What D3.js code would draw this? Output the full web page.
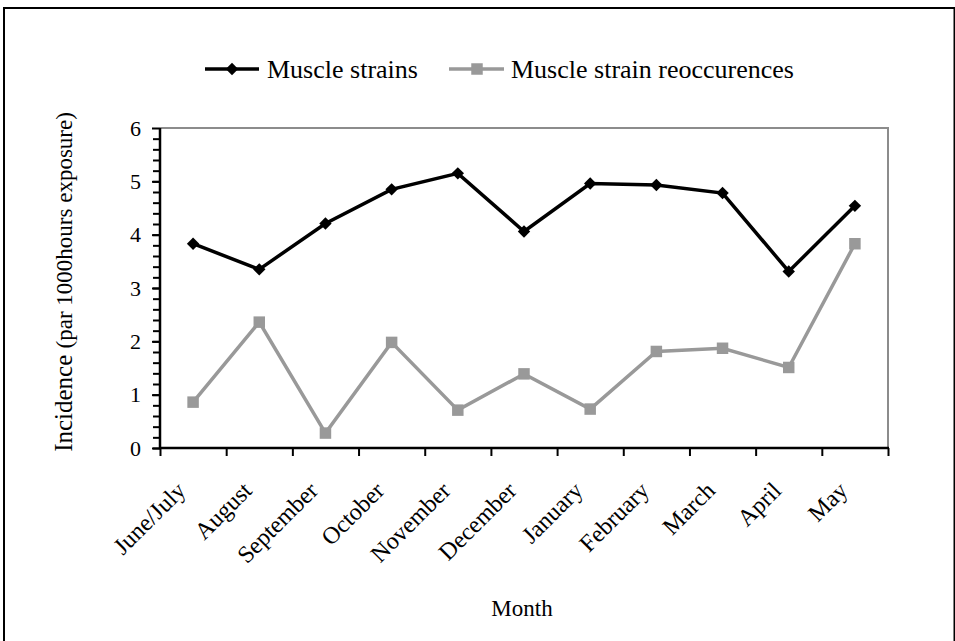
<!DOCTYPE html>
<html><head><meta charset="utf-8">
<script src="https://cdn.jsdelivr.net/npm/d3@7/dist/d3.min.js"></script>
<style>html,body{margin:0;padding:0;background:#fff;}svg{display:block;}text{font-family:"Liberation Serif","Times New Roman",serif;fill:#000;}</style>
</head><body>
<svg id="c" width="955" height="641"></svg>
<script>
const months = ["June/July","August","September","October","November","December","January","February","March","April","May"];
const strains = [3.83,3.35,4.21,4.85,5.15,4.06,4.96,4.93,4.78,3.31,4.54];
const reoccurrences = [0.86,2.36,0.28,1.98,0.71,1.39,0.73,1.81,1.87,1.51,3.83];
const yTicks = [0,1,2,3,4,5,6];
const seriesNames = ["Muscle strains","Muscle strain reoccurences"];

const svg = d3.select("#c");
const L=160,R=888,T=128,B=448;
// outer frame
svg.append("rect").attr("x",4).attr("y",8).attr("width",950.5).attr("height",645).attr("fill","none").attr("stroke","#000").attr("stroke-width",2);

const x = d3.scaleBand().domain(months).range([L,R]).paddingInner(0).paddingOuter(0);
const xb = d3.scaleLinear().domain([0,months.length]).range([L,R]);
const y = d3.scaleLinear().domain([0,6]).range([B,T]);

// grey top/right border
svg.append("path").attr("d",`M${L},${T}H${R}V${B}`).attr("fill","none").attr("stroke","#8c8c8c").attr("stroke-width",2);

// y minor ticks
const gMinor = svg.append("g").attr("transform",`translate(${L},0)`)
  .call(d3.axisLeft(y).tickValues(d3.range(0,30).map(i=>i*0.2)).tickSize(7).tickFormat(""));
gMinor.select(".domain").remove();
gMinor.selectAll("line").attr("stroke","#000").attr("stroke-width",2);
// y major ticks
const gy = svg.append("g").attr("transform",`translate(${L},0)`)
  .call(d3.axisLeft(y).tickValues(yTicks).tickSize(8).tickPadding(11).tickFormat(d3.format("d")));
gy.select(".domain").remove();
gy.selectAll("line").attr("stroke","#000").attr("stroke-width",2);
gy.selectAll("text").style("font-size","22px").style("font-family","Liberation Serif");

// x ticks
const gx = svg.append("g").attr("transform",`translate(0,${B})`)
  .call(d3.axisBottom(xb).tickValues(d3.range(months.length+1)).tickSize(8).tickFormat(""));
gx.select(".domain").remove();
gx.selectAll("line").attr("stroke","#000").attr("stroke-width",2);

// axis lines
svg.append("path").attr("d",`M${L},${T}V${B}H${R+1}`).attr("fill","none").attr("stroke","#000").attr("stroke-width",2.5);

// x labels
svg.append("g").selectAll("text").data(months).join("text")
  .attr("transform",d=>`translate(${x(d)+x.bandwidth()/2-6},${B+44}) rotate(-45)`)
  .attr("text-anchor","end").style("font-size","24px").text(d=>d);

// lines
const cx = d=>x(d)+x.bandwidth()/2;
const line = d3.line().x((d,i)=>cx(months[i])).y(d=>y(d));
svg.append("path").datum(reoccurrences).attr("d",line).attr("fill","none").attr("stroke","#999").attr("stroke-width",3.5).attr("stroke-linejoin","miter");
svg.append("path").datum(strains).attr("d",line).attr("fill","none").attr("stroke","#000").attr("stroke-width",3.5);
const sq = d3.symbol().type(d3.symbolSquare).size(132);
const di = d3.symbol().type(d3.symbolDiamond2).size(98);
svg.append("g").selectAll("path").data(reoccurrences).join("path")
  .attr("d",sq).attr("fill","#999").attr("transform",(d,i)=>`translate(${cx(months[i])},${y(d)})`);
svg.append("g").selectAll("path").data(strains).join("path")
  .attr("d",di).attr("fill","#000").attr("transform",(d,i)=>`translate(${cx(months[i])},${y(d)})`);

// legend
const lg = svg.append("g");
const ly = 69;
lg.append("line").attr("x1",205).attr("x2",259).attr("y1",ly).attr("y2",ly).attr("stroke","#000").attr("stroke-width",3.5);
lg.append("path").attr("d",di).attr("fill","#000").attr("transform",`translate(232,${ly})`);
lg.append("text").attr("x",267).attr("y",ly+9).style("font-size","26px").text(seriesNames[0]);
lg.append("line").attr("x1",449).attr("x2",504).attr("y1",ly).attr("y2",ly).attr("stroke","#999").attr("stroke-width",3.5);
lg.append("path").attr("d",sq).attr("fill","#999").attr("transform",`translate(477,${ly})`);
lg.append("text").attr("x",511).attr("y",ly+9).style("font-size","26px").text(seriesNames[1]);

// axis titles
const yt = svg.append("text").attr("transform",`translate(72,282) rotate(-90)`).attr("text-anchor","middle");
yt.append("tspan").style("font-size","25px").text("Incidence ");
yt.append("tspan").style("font-size","23px").text("(par 1000hours exposure)");
svg.append("text").attr("x",522).attr("y",616).attr("text-anchor","middle").style("font-size","23px").text("Month");
</script>
</body></html>
